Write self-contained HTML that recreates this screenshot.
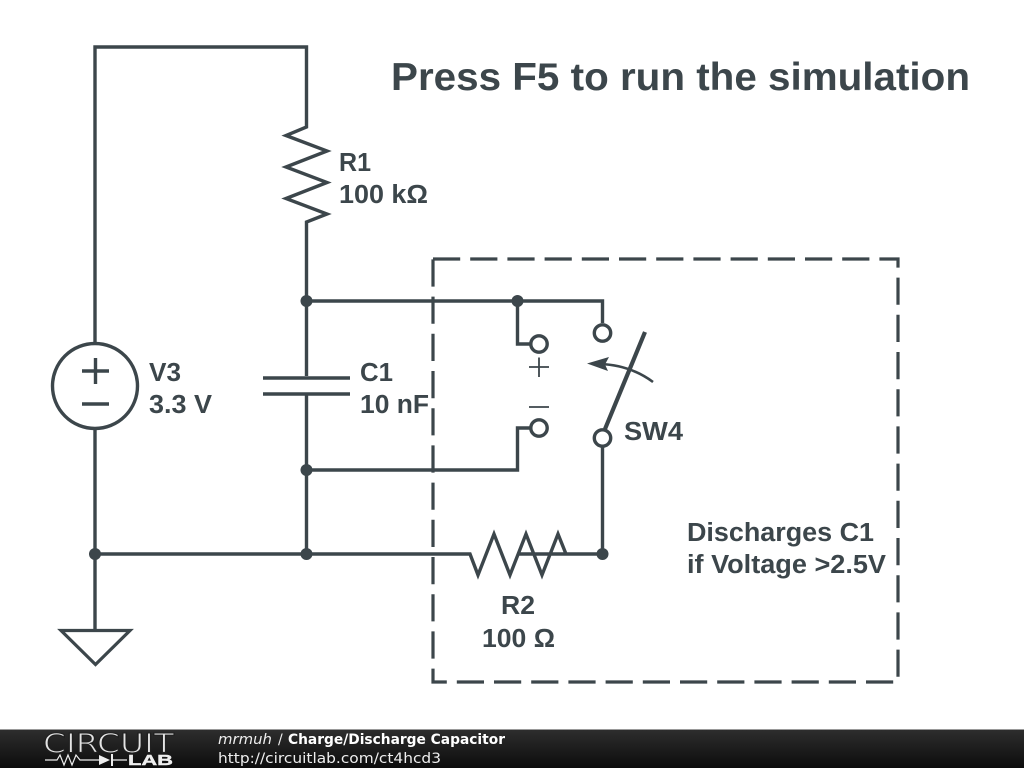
<!DOCTYPE html>
<html><head><meta charset="utf-8"><style>
html,body{margin:0;padding:0;background:#fff}
svg{display:block}
</style></head><body>
<svg width="1024" height="768" viewBox="0 0 1024 768" xmlns="http://www.w3.org/2000/svg">
<defs><linearGradient id="g" x1="0" y1="0" x2="0" y2="1"><stop offset="0" stop-color="#2e2e2e"/><stop offset="1" stop-color="#0c0c0c"/></linearGradient></defs>
<rect width="1024" height="768" fill="#fff"/>
<g fill="none" stroke="#3c464b" stroke-width="3.4" stroke-linejoin="miter">
<path d="M95 344V47H306.500V127L286 135.500L327 151L286 167L327 182.500L286 198.500L327 214L306.500 222V376M306.500 394V554"/>
<path d="M306.500 301H602.500V323M517.500 301V344H530M306.500 470H517.500V428H530"/>
<path d="M95 429V630M95 554H470L478 575L494 534L510 575L526 534L542 575L558 534L566 554M518 554H602.500V447"/>
<path d="M263 378H350M263 394H350" stroke-width="3.600"/>
<circle cx="95" cy="386" r="42.500"/>
<path d="M82 371H109M95.500 358V384M82 404H109"/>
<path d="M61 630.500H130L95.500 664.500Z" stroke-width="3.200"/>
<circle cx="602.500" cy="333" r="8.200"/><circle cx="539" cy="344" r="8.200"/><circle cx="539" cy="428" r="8.200"/><circle cx="602.500" cy="438" r="8.200"/>
<path d="M605 429L645 332" stroke-width="4.200"/>
<path d="M653 382Q630 365 600 364" stroke-width="2.600"/>
<path d="M529 367H549M539 357.500V377M529 407H549" stroke-width="1.800"/>
<path d="M433 259H898V682H433Z" stroke-dasharray="27.200 10" stroke-width="3.200"/>
</g>
<path d="M587 363.500L609 357L605 364.500L608 371Z" fill="#3c464b"/>
<g fill="#3c464b"><circle cx="306.500" cy="301" r="6"/><circle cx="517.500" cy="301" r="6"/><circle cx="306.500" cy="470" r="6"/><circle cx="95" cy="554" r="6"/><circle cx="306.500" cy="554" r="6"/><circle cx="602.500" cy="554" r="6"/></g>
<g font-family="'Liberation Sans',sans-serif" font-weight="700" fill="#3c464b" font-size="25.500">
<text x="391" y="90" font-size="39" textLength="579" lengthAdjust="spacingAndGlyphs">Press F5 to run the simulation</text>
<text x="339" y="171" textLength="32" lengthAdjust="spacingAndGlyphs">R1</text>
<text x="339" y="203" textLength="89" lengthAdjust="spacingAndGlyphs">100 kΩ</text>
<text x="149" y="381" textLength="32" lengthAdjust="spacingAndGlyphs">V3</text>
<text x="149" y="413" textLength="63" lengthAdjust="spacingAndGlyphs">3.3 V</text>
<text x="360" y="381" textLength="33" lengthAdjust="spacingAndGlyphs">C1</text>
<text x="360" y="413" textLength="69" lengthAdjust="spacingAndGlyphs">10 nF</text>
<text x="624" y="440" textLength="59" lengthAdjust="spacingAndGlyphs">SW4</text>
<text x="501" y="614" textLength="34" lengthAdjust="spacingAndGlyphs">R2</text>
<text x="482" y="647" textLength="73" lengthAdjust="spacingAndGlyphs">100 Ω</text>
<text x="687" y="541" textLength="187" lengthAdjust="spacingAndGlyphs">Discharges C1</text>
<text x="687" y="573" textLength="199" lengthAdjust="spacingAndGlyphs">if Voltage &gt;2.5V</text>
</g>
<rect y="729" width="1024" height="39" fill="url(#g)"/>
<rect y="729" width="1024" height="1" fill="#999"/>
<text x="43" y="752.500" font-family="'DejaVu Sans',sans-serif" font-size="27" fill="#e4e4e4" stroke="#202020" stroke-width="1.100" textLength="131" lengthAdjust="spacingAndGlyphs">CIRCUIT</text>
<path d="M45 760H57L60 755L64 765L68 755L72 765L76 755L80 760H99M112 760H127" fill="none" stroke="#eee" stroke-width="1.200"/>
<path d="M99 755L110 760L99 765Z M111 754H113V766H111Z" fill="#eee"/>
<text x="128" y="765" font-family="'Liberation Sans',sans-serif" font-size="15" font-weight="700" fill="#eee" stroke="#eee" stroke-width=".4" textLength="45" lengthAdjust="spacingAndGlyphs">LAB</text>
<text x="218" y="744" font-family="'DejaVu Sans',sans-serif" font-size="14" font-style="italic" fill="#eee" textLength="54" lengthAdjust="spacingAndGlyphs">mrmuh</text>
<text x="278" y="744" font-family="'DejaVu Sans',sans-serif" font-size="14" fill="#eee">/</text>
<text x="288" y="744" font-family="'DejaVu Sans',sans-serif" font-size="14" font-weight="700" fill="#fff" textLength="217" lengthAdjust="spacingAndGlyphs">Charge/Discharge Capacitor</text>
<text x="218" y="763" font-family="'DejaVu Sans',sans-serif" font-size="14" fill="#eee" textLength="223" lengthAdjust="spacingAndGlyphs">http://circuitlab.com/ct4hcd3</text>
</svg>
</body></html>
